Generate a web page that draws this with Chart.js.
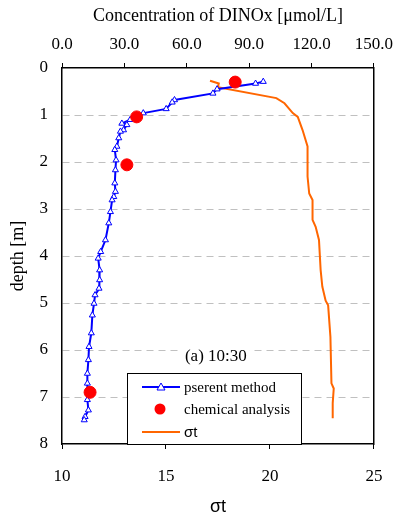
<!DOCTYPE html>
<html>
<head>
<meta charset="utf-8">
<script src="https://cdn.jsdelivr.net/npm/chart.js@4"></script>
<style>
  html, body { margin: 0; padding: 0; background: #fff; }
  #wrap { width: 401px; height: 512px; }
</style>
</head>
<body>
<div id="wrap"><canvas id="myChart" width="401" height="512"></canvas></div>
<script>
// data block
const pserentConc = [96.8, 93.1, 74.6, 72.6, 54.1, 53.0, 50.1, 39.1, 32.8, 28.8, 31.2, 29.6, 28.1, 27.3, 26.4, 25.4, 26.0, 25.7, 25.4, 25.7, 24.9, 24.1, 23.3, 22.5, 20.9, 18.6, 17.4, 18.1, 18.1, 17.8, 15.9, 15.4, 14.6, 14.1, 13.0, 12.7, 12.2, 12.2, 12.2, 12.7, 11.1, 10.7];
const pserentDepth = [0.29, 0.33, 0.45, 0.54, 0.68, 0.73, 0.87, 0.96, 1.10, 1.18, 1.21, 1.32, 1.35, 1.49, 1.67, 1.74, 1.96, 2.17, 2.45, 2.63, 2.74, 2.81, 3.06, 3.30, 3.66, 3.91, 4.05, 4.30, 4.51, 4.69, 4.83, 5.01, 5.26, 5.64, 5.93, 6.21, 6.50, 6.71, 7.06, 7.28, 7.42, 7.49];

const chemConc = [83.3, 35.9, 31.2, 13.5];
const chemDepth = [0.30, 1.04, 2.06, 6.90];

const sigmaT = [17.12, 17.54, 17.50, 20.31, 20.70, 21.10, 21.34, 21.57, 21.81, 21.81, 21.89, 22.05, 22.05, 22.20, 22.36, 22.44, 22.52, 22.68, 22.80, 22.91, 22.96, 23.07, 23.02, 23.02];
const sigmaDepth = [0.27, 0.33, 0.41, 0.64, 0.75, 0.96, 1.04, 1.32, 1.67, 2.31, 2.67, 2.81, 3.23, 3.38, 3.66, 4.30, 4.65, 4.95, 5.05, 5.72, 6.71, 6.82, 7.13, 7.45];

const concTicks = [0, 30, 60, 90, 120, 150];
const sigmaTicks = [10, 15, 20, 25];
const depthTicks = [0, 1, 2, 3, 4, 5, 6, 7, 8];

const seriesNames = ['pserent method', 'chemical analysis', 'σt'];
const panelLabel = '(a) 10:30';

const toPoints = (xs, ys) => xs.map((v, i) => ({x: v, y: ys[i]}));

const serif = 'Liberation Serif';

//legend + panel label plugin
const boxLegend = {
    id: 'boxLegend',
    afterDatasetsDraw(chart) {
        const ctx = chart.ctx;
        const sx = chart.scales.x, sy = chart.scales.y;
        // panel label
        ctx.save();
        ctx.font = '17px ' + serif;
        const lx = sx.getPixelForValue(17.4), ly = sy.getPixelForValue(6.13);
        const w = ctx.measureText(panelLabel).width;
        ctx.fillStyle = '#fff';
        ctx.fillRect(lx - w / 2 - 3, ly - 10, w + 6, 20);
        ctx.fillStyle = '#000';
        ctx.textAlign = 'center';
        ctx.textBaseline = 'middle';
        ctx.fillText(panelLabel, lx, ly);

        // legend box
        const bx = 127, by = 373, bw = 174, bh = 71;
        ctx.fillStyle = '#fff';
        ctx.fillRect(bx, by, bw, bh);
        ctx.strokeStyle = '#000';
        ctx.lineWidth = 1;
        ctx.strokeRect(bx + 0.5, by + 0.5, bw, bh);
        ctx.textAlign = 'left';
        const rows = [387, 409, 432];
        chart.data.datasets.forEach((ds, i) => {
            const y = rows[i];
            if (ds.showLine) {
                ctx.strokeStyle = ds.borderColor;
                ctx.lineWidth = ds.borderWidth;
                ctx.beginPath();
                ctx.moveTo(142, y);
                ctx.lineTo(180, y);
                ctx.stroke();
            }
            if (ds.pointStyle === 'triangle') {
                ctx.fillStyle = '#fff';
                ctx.strokeStyle = ds.pointBorderColor;
                ctx.lineWidth = 1;
                ctx.beginPath();
                ctx.moveTo(161, y - 4);
                ctx.lineTo(165, y + 3);
                ctx.lineTo(157, y + 3);
                ctx.closePath();
                ctx.fill();
                ctx.stroke();
            } else if (ds.pointStyle === 'circle') {
                ctx.fillStyle = ds.pointBackgroundColor;
                ctx.beginPath();
                ctx.arc(160, y, 5.5, 0, Math.PI * 2);
                ctx.fill();
            }
            ctx.fillStyle = '#000';
            ctx.font = (i === 2 ? '15px Liberation Sans' : '15px ' + serif);
            ctx.fillText(ds.label, 184, y + 1);
        });
        ctx.restore();
    }
};

const ctx = document.getElementById('myChart').getContext('2d');
const myChart = new Chart(ctx, {
    type: 'scatter',
    data: {
        datasets: [{
            label: seriesNames[0],
            data: toPoints(pserentConc, pserentDepth),
            xAxisID: 'x2',
            yAxisID: 'y',
            showLine: true,
            borderColor: '#0000ff',
            borderWidth: 2,
            pointStyle: 'triangle',
            pointRadius: 3.5,
            pointBackgroundColor: '#fff',
            pointBorderColor: '#0000ff',
            pointBorderWidth: 1,
            order: 1
        }, {
            label: seriesNames[1],
            data: toPoints(chemConc, chemDepth),
            xAxisID: 'x2',
            yAxisID: 'y',
            showLine: false,
            pointStyle: 'circle',
            pointRadius: 6,
            pointBackgroundColor: '#ff0000',
            pointBorderColor: '#ff0000',
            borderColor: '#ff0000',
            order: 0
        }, {
            label: seriesNames[2],
            data: toPoints(sigmaT, sigmaDepth),
            xAxisID: 'x',
            yAxisID: 'y',
            showLine: true,
            borderColor: '#ff6600',
            borderWidth: 2,
            pointRadius: 0,
            order: 2
        }]
    },
    options: {
        responsive: false,
        animation: false,
        layout: { padding: 0 },
        plugins: {
            legend: { display: false },
            tooltip: { enabled: false }
        },
        scales: {
            x: {
                type: 'linear',
                position: 'bottom',
                min: 10, max: 25,
                afterBuildTicks: s => { s.ticks = sigmaTicks.map(v => ({value: v})); },
                afterFit: s => { s.height = 68; },
                ticks: { color: '#000', font: { family: serif, size: 17 }, padding: 17 },
                grid: { drawOnChartArea: false, drawTicks: true, tickLength: 5, color: '#000' },
                border: { display: true, color: '#000', width: 1.5 },
                title: { display: true, text: 'σt', color: '#000', font: { family: 'Liberation Sans', size: 18 }, padding: { top: 0, bottom: -6 } }
            },
            x2: {
                type: 'linear',
                position: 'top',
                min: 0, max: 150,
                afterBuildTicks: s => { s.ticks = concTicks.map(v => ({value: v})); },
                afterFit: s => { s.height = 68; },
                ticks: { color: '#000', font: { family: serif, size: 17 }, padding: 8, callback: v => v.toFixed(1) },
                grid: { drawOnChartArea: false, drawTicks: true, tickLength: 5, color: '#000' },
                border: { display: true, color: '#000', width: 1.5 },
                title: { display: true, text: 'Concentration of DINOx [μmol/L]', color: '#000', font: { family: serif, size: 18 }, padding: { top: 5, bottom: 4 } }
            },
            y: {
                type: 'linear',
                position: 'left',
                reverse: true,
                min: 0, max: 8,
                afterBuildTicks: s => { s.ticks = depthTicks.map(v => ({value: v})); },
                afterFit: s => { s.width = 62; },
                ticks: { color: '#000', font: { family: serif, size: 17 }, padding: 14 },
                grid: {
                    drawTicks: false,
                    color: c => (c.tick && (c.tick.value === 0 || c.tick.value === 8)) ? 'rgba(0,0,0,0)' : '#c0c0c0',
                    lineWidth: 1
                },
                border: { display: true, color: '#000', width: 1.5, dash: [7, 5] },
                title: { display: true, text: 'depth [m]', color: '#000', font: { family: serif, size: 18 }, padding: { top: 7, bottom: 4 } }
            },
            y2: {
                type: 'linear',
                position: 'right',
                reverse: true,
                min: 0, max: 8,
                afterFit: s => { s.width = 22; },
                ticks: { display: false },
                grid: { display: false, drawTicks: false },
                border: { display: true, color: '#000', width: 1.5 }
            }
        }
    },
    plugins: [boxLegend]
});
</script>
</body>
</html>
